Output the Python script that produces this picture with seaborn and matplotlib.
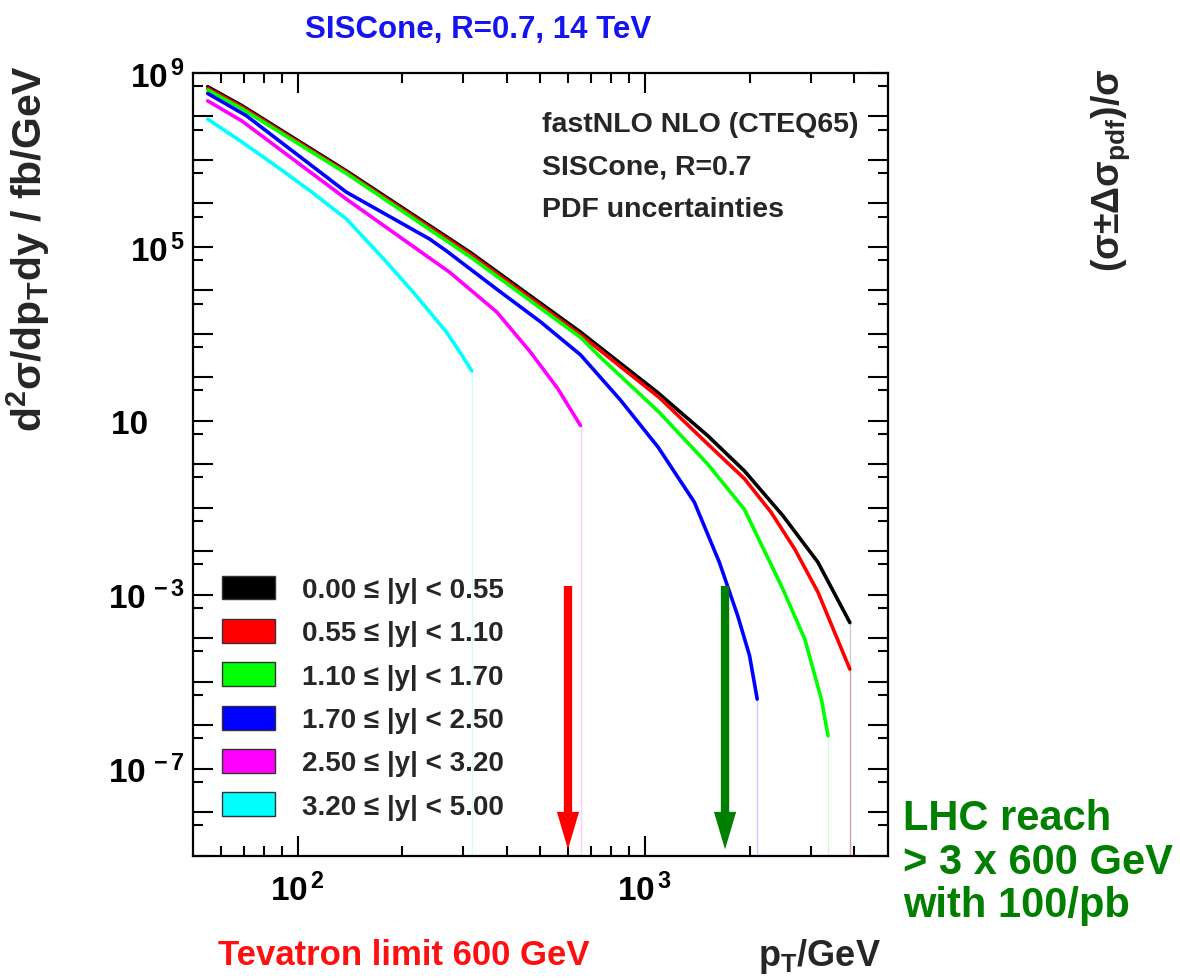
import numpy as np
import pandas as pd
import matplotlib
matplotlib.use("Agg")
import matplotlib.pyplot as plt
from matplotlib.patches import Patch
from matplotlib.ticker import FixedLocator, FuncFormatter, NullFormatter
import seaborn as sns

# rapidity bins and colours
bin_labels = [
    "0.00 \u2264 |y| < 0.55",
    "0.55 \u2264 |y| < 1.10",
    "1.10 \u2264 |y| < 1.70",
    "1.70 \u2264 |y| < 2.50",
    "2.50 \u2264 |y| < 3.20",
    "3.20 \u2264 |y| < 5.00",
]
bin_colors = ["#000000", "#ff0000", "#00ff00", "#0000ff", "#ff00ff", "#00ffff"]

# pT points (GeV) and cross sections (fb/GeV)
pt_y0 = [55, 69, 138, 313, 652, 1087, 1514, 1932, 2495, 3148, 3890]
xs_y0 = [4.84e8, 1.78e8, 5.6e6, 7.6e4, 1.1e3, 45, 4.6, 0.71, 0.066, 5.6e-3, 2.3e-4]

pt_y1 = [55, 69, 138, 313, 652, 1098, 1514, 1932, 2307, 2700, 3148, 3890]
xs_y1 = [4.47e8, 1.66e8, 5.25e6, 6.9e4, 955, 34.7, 2.95, 0.47, 0.079, 0.0112, 1.15e-3, 1.95e-5]

pt_y2 = [55, 69, 138, 313, 652, 745, 1098, 1514, 1932, 2495, 2886, 3220, 3365]
xs_y2 = [4.07e8, 1.51e8, 4.9e6, 6.0e4, 832, 288, 15.8, 1.02, 0.093, 1.35e-3, 9.5e-5, 4.0e-6, 5.75e-7]

pt_y3 = [55, 71, 138, 240, 268, 374, 500, 652, 850, 1092, 1387, 1637, 1849, 2000, 2104]
xs_y3 = [3.39e8, 1.05e8, 1.82e6, 1.51e5, 8.1e4, 1.07e4, 1.9e3, 330, 30, 2.45, 0.135, 5.6e-3, 3.3e-4, 4.0e-5, 4.0e-6]

pt_y4 = [55, 69, 138, 274, 374, 468, 560, 652]
xs_y4 = [2.29e8, 7.9e7, 1.26e6, 2.6e4, 3.2e3, 380, 56, 7.8]

pt_y5 = [55, 69, 89, 110, 138, 180, 215, 268, 293, 317]
xs_y5 = [8.7e7, 2.6e7, 6.2e6, 1.8e6, 4.4e5, 4.5e4, 9.1e3, 1.1e3, 380, 141]

pt_all = [pt_y0, pt_y1, pt_y2, pt_y3, pt_y4, pt_y5]
xs_all = [xs_y0, xs_y1, xs_y2, xs_y3, xs_y4, xs_y5]

# arrows: Tevatron limit and LHC reach
arrow_pt = [600, 1700]
arrow_colors = ["#ff0000", "#007f00"]
arrow_top = 1.6e-3
arrow_tip = 1.4e-9

df = pd.concat(
    [pd.DataFrame({"pt": p, "xs": s, "bin": lab}) for p, s, lab in zip(pt_all, xs_all, bin_labels)],
    ignore_index=True,
)

sns.set_style("ticks")
plt.rcParams["font.family"] = ["Liberation Sans", "DejaVu Sans"]
plt.rcParams["font.weight"] = "bold"
plt.rcParams["mathtext.fontset"] = "custom"
plt.rcParams["mathtext.rm"] = "Liberation Sans:bold"
plt.rcParams["mathtext.it"] = "Liberation Sans:bold"
plt.rcParams["mathtext.bf"] = "Liberation Sans:bold"
plt.rcParams["mathtext.default"] = "rm"

fig = plt.figure(figsize=(11.8, 9.79), dpi=100)
ax = fig.add_axes([0.1638, 0.1249, 0.5885, 0.7995])

sns.lineplot(
    data=df, x="pt", y="xs", hue="bin", hue_order=bin_labels,
    palette=dict(zip(bin_labels, bin_colors)), linewidth=2.6,
    legend=False, ax=ax, sort=True,
)

# faint drop lines at the end of each curve
for p, s, c in zip(pt_all, xs_all, bin_colors):
    ax.vlines(p[-1], 1e-9, s[-1], color=c, lw=1, alpha=0.2)

for xa, c in zip(arrow_pt, arrow_colors):
    ax.annotate("", xy=(xa, arrow_tip), xytext=(xa, arrow_top),
                arrowprops=dict(facecolor=c, edgecolor="none", width=6,
                                headwidth=16, headlength=27, shrink=0))

ax.set_xscale("log")
ax.set_yscale("log")
ax.set_xlim(50, 5000)
ax.set_ylim(1e-9, 1e9)

# ticks
ax.xaxis.set_major_locator(FixedLocator([100, 1000]))
ax.xaxis.set_minor_locator(FixedLocator([60, 70, 80, 90, 200, 300, 400, 500, 600, 700, 800, 900, 2000, 3000, 4000]))
ax.xaxis.set_major_formatter(FuncFormatter(lambda v, pos: r"$10^{\,%d}$" % round(np.log10(v))))
ax.xaxis.set_minor_formatter(NullFormatter())

ax.yaxis.set_major_locator(FixedLocator(10.0 ** np.arange(-9, 10)))
ax.yaxis.set_minor_locator(FixedLocator(5 * 10.0 ** np.arange(-9, 9)))


def ylab(v, pos):
    e = int(round(np.log10(v)))
    if e == 1:
        return "10    "
    if e in (9, 5, -3, -7):
        return r"$10^{\,%d}$" % e
    return ""


ax.yaxis.set_major_formatter(FuncFormatter(ylab))
ax.yaxis.set_minor_formatter(NullFormatter())

ax.tick_params(which="both", direction="in", top=True, right=True, width=1.5, colors="black")
ax.tick_params(which="major", length=14.5)
ax.tick_params(which="minor", length=7.2)
ax.tick_params(axis="y", which="major", labelsize=24, pad=6)
ax.tick_params(axis="x", which="major", labelsize=24, pad=12)
for sp in ax.spines.values():
    sp.set_linewidth(1.6)
    sp.set_color("black")

ax.set_xlabel(r"p$_{\mathrm{T}}$/GeV", fontsize=26, fontweight="bold", loc="right")
ax.xaxis.set_label_coords(0.99, -0.103)
ax.set_ylabel(r"d$^{2}$σ/dp$_{\mathrm{T}}$dy / fb/GeV", fontsize=29.5, fontweight="bold", loc="top")
ax.yaxis.set_label_coords(-0.203, 1.012)

# legend
handles = [Patch(facecolor=c, edgecolor="#333333", linewidth=1) for c in bin_colors]
ax.legend(handles, bin_labels, loc="upper left", bbox_to_anchor=(0.041, 0.358),
          frameon=False, handlelength=1.92, handleheight=0.95,
          handletextpad=0.97, labelspacing=0.57, borderpad=0, borderaxespad=0,
          prop={"weight": "bold", "size": 20})

# info text
for txt, yy in zip(["fastNLO NLO (CTEQ65)", "SISCone, R=0.7", "PDF uncertainties"], [0.935, 0.881, 0.826]):
    ax.text(0.502, yy, txt, transform=ax.transAxes, fontsize=20.5, fontweight="bold", va="center", ha="left")

fig.text(0.405, 0.9694, "SISCone, R=0.7, 14 TeV", color="#1414f0", fontsize=22.5,
         fontweight="bold", ha="center", va="center")
fig.text(0.1847, 0.0245, "Tevatron limit 600 GeV", color="#ff1010", fontsize=25,
         fontweight="bold", ha="left", va="center")
for txt, yy in zip(["LHC reach", "> 3 x 600 GeV", "with 100/pb"], [0.1634, 0.1185, 0.0746]):
    fig.text(0.765, yy, txt, color="#007f00", fontsize=30, fontweight="bold", ha="left", va="center")
fig.text(0.941, 0.826, r"(σ±Δσ$_{\mathrm{pdf}}$)/σ", rotation=90, fontsize=27,
         fontweight="bold", ha="center", va="center")

fig.savefig("out.png", dpi=100)
